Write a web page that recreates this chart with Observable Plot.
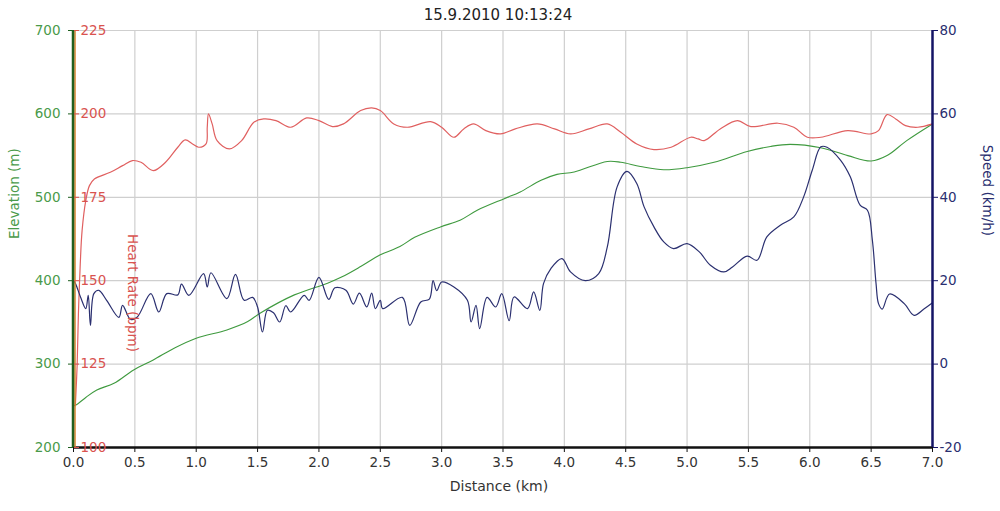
<!DOCTYPE html>
<html>
<head>
<meta charset="utf-8">
<script src="https://cdn.jsdelivr.net/npm/d3@7"></script>
<script src="https://cdn.jsdelivr.net/npm/@observablehq/plot@0.6"></script>
<style>
  html, body { margin: 0; padding: 0; background: #fff; }
  #chart svg { display: block; }
</style>
</head>
<body>
<div id="chart"></div>
<script>
// ---- data ----
const title = "15.9.2010 10:13:24";
const xDomain = [0, 7.0];
const xTicks = [0, 0.5, 1, 1.5, 2, 2.5, 3, 3.5, 4, 4.5, 5, 5.5, 6, 6.5, 7];
const elevTicks = [200, 300, 400, 500, 600, 700];
const hrTicks = [100, 125, 150, 175, 200, 225];
const speedTicks = [-20, 0, 20, 40, 60, 80];

const elevKm = [0.0, 0.02, 0.1, 0.19, 0.33, 0.49, 0.65, 0.82, 1.0, 1.25, 1.42, 1.52, 1.8, 2.07, 2.18, 2.34, 2.5, 2.66, 2.78, 2.99, 3.15, 3.29, 3.51, 3.64, 3.81, 3.94, 4.08, 4.35, 4.46, 4.62, 4.81, 5.0, 5.22, 5.49, 5.68, 5.84, 6.09, 6.31, 6.5, 6.63, 6.79, 7.0];
const elevM = [250, 251, 260, 269, 277, 293, 305, 319, 331, 341, 351, 361, 383, 397, 404, 417, 431, 441, 452, 464.5, 472.5, 484.4, 498.4, 506.4, 520.4, 527.5, 530.3, 543, 542, 537, 533, 535.5, 542, 555, 561, 563.5, 559.5, 550, 543.5, 550, 568, 588];

const hrKm = [0.015, 0.03, 0.04, 0.055, 0.07, 0.10, 0.13, 0.17, 0.30, 0.40, 0.48, 0.55, 0.65, 0.75, 0.85, 0.91, 0.97, 1.02, 1.08, 1.09, 1.10, 1.13, 1.17, 1.27, 1.37, 1.47, 1.55, 1.65, 1.77, 1.90, 2.00, 2.11, 2.20, 2.34, 2.43, 2.50, 2.61, 2.72, 2.91, 3.00, 3.10, 3.18, 3.26, 3.36, 3.48, 3.60, 3.78, 3.92, 4.05, 4.20, 4.35, 4.46, 4.59, 4.73, 4.87, 5.03, 5.09, 5.14, 5.27, 5.41, 5.52, 5.74, 5.87, 5.98, 6.09, 6.31, 6.50, 6.56, 6.63, 6.70, 6.78, 6.88, 7.0];
const hrBpm = [112.5, 125, 140, 155, 165, 174, 178.5, 180.5, 182.5, 184.5, 186, 185.5, 183, 185.5, 190, 192.2, 191, 190, 191, 196, 200, 197, 192, 189.5, 192, 197.5, 198.5, 198, 196, 198.8, 198, 196.2, 197, 201, 201.8, 201, 197, 196, 197.7, 196, 193, 195.5, 197, 195, 194, 195.5, 197, 195.5, 194, 195.5, 197, 194.5, 191, 189.3, 190, 193, 192.5, 192, 195.5, 198, 196.2, 197.2, 196, 193, 193, 195, 194, 195, 199.8, 198.5, 196.5, 196, 197];

const speedKm = [0.0, 0.016, 0.057, 0.10, 0.12, 0.138, 0.166, 0.206, 0.27, 0.37, 0.40, 0.465, 0.52, 0.63, 0.695, 0.76, 0.85, 0.88, 0.94, 1.06, 1.09, 1.12, 1.25, 1.32, 1.39, 1.46, 1.50, 1.54, 1.58, 1.63, 1.68, 1.73, 1.77, 1.88, 1.92, 2.0, 2.08, 2.13, 2.22, 2.28, 2.33, 2.39, 2.43, 2.46, 2.50, 2.52, 2.68, 2.74, 2.83, 2.90, 2.93, 2.96, 3.0, 3.10, 3.21, 3.24, 3.28, 3.31, 3.37, 3.44, 3.49, 3.55, 3.59, 3.70, 3.75, 3.80, 3.83, 3.89, 3.98, 4.05, 4.17, 4.28, 4.35, 4.43, 4.51, 4.59, 4.65, 4.73, 4.81, 4.89, 5.0, 5.10, 5.19, 5.30, 5.37, 5.49, 5.57, 5.65, 5.76, 5.87, 5.95, 6.02, 6.09, 6.14, 6.25, 6.33, 6.41, 6.47, 6.51, 6.54, 6.56, 6.59, 6.65, 6.77, 6.85, 6.93, 7.0];
const speedKmh = [20, 19.3, 16.1, 13.3, 16.5, 9.3, 16.9, 17.7, 15.3, 11.2, 14.1, 10.7, 11.3, 16.9, 12.5, 16.9, 16.6, 19.2, 16.5, 21.7, 18.5, 21.9, 15.7, 21.5, 15.3, 16, 13.7, 7.7, 12.9, 12.3, 10.1, 14, 12.5, 16.5, 15.3, 20.8, 15.5, 18.3, 17.7, 14.4, 17, 13.7, 17, 13.3, 15.3, 13.3, 16, 9.3, 14.9, 15.6, 20, 17.6, 19.7, 18.5, 15.3, 10.1, 14.1, 8.5, 16, 13.7, 16.9, 10.4, 16.1, 13.3, 17.3, 12.9, 19.3, 22.9, 25.3, 22.1, 20, 21.7, 28.1, 42.5, 46.2, 43.3, 37.7, 32.9, 29.3, 27.7, 28.9, 26.9, 23.7, 22.1, 23.3, 25.9, 24.9, 30.5, 33.3, 35.3, 40.1, 46.5, 52.1, 52, 48.9, 44.9, 38.1, 36.9, 29.7, 19.3, 14.5, 13.2, 16.8, 14.5, 11.7, 13.2, 14.7];

// ---- colours ----
const cElev = "#4a9a4a", cElevLine = "#3f9a3f", cElevAxis = "#1f5f1f";
const cHr = "#d9534f", cHrLine = "#e06060";
const cSpeed = "#2a2f70", cSpeedLine = "#2b3070", cSpeedAxis = "#141466";
const cText = "#333";
const fs = 13.5;

// secondary scales mapped onto the elevation scale
const elevDomain = [elevTicks[0], elevTicks[elevTicks.length - 1]];
const hrToElev = d3.scaleLinear().domain([hrTicks[0], hrTicks[hrTicks.length - 1]]).range(elevDomain);
const spToElev = d3.scaleLinear().domain([speedTicks[0], speedTicks[speedTicks.length - 1]]).range(elevDomain);

const elevData = elevKm.map((k, i) => ({km: k, v: elevM[i]}));
const hrData = hrKm.map((k, i) => ({km: k, v: hrToElev(hrBpm[i])}));
const spData = speedKm.map((k, i) => ({km: k, v: spToElev(speedKmh[i])}));

const chart = Plot.plot({
  width: 1000,
  height: 511,
  marginLeft: 73,
  marginRight: 68,
  marginTop: 30,
  marginBottom: 64,
  style: {fontFamily: "DejaVu Sans, Verdana, sans-serif", fontSize: fs + "px", background: "#fff", overflow: "visible"},
  x: {domain: xDomain},
  y: {domain: elevDomain},
  marks: [
    Plot.gridX(xTicks, {stroke: "#cfcfcf", strokeOpacity: 1, strokeWidth: 1.2}),
    Plot.gridY(elevTicks, {stroke: "#cfcfcf", strokeOpacity: 1, strokeWidth: 1.2}),
    Plot.line(elevData, {x: "km", y: "v", stroke: cElevLine, strokeWidth: 1.1, curve: "catmull-rom"}),
    Plot.line(hrData, {x: "km", y: "v", stroke: cHrLine, strokeWidth: 1.2, curve: "catmull-rom"}),
    Plot.line(spData, {x: "km", y: "v", stroke: cSpeedLine, strokeWidth: 1.2, curve: "catmull-rom"}),
    // axis lines
    Plot.ruleY([elevDomain[0]], {stroke: "#111", strokeWidth: 2.5}),
    Plot.ruleX([xDomain[1]], {stroke: cSpeedAxis, strokeWidth: 2.5}),
    Plot.ruleX([xDomain[0]], {stroke: "#d9822b", strokeWidth: 1.5, dx: 1.5}),
    Plot.ruleX([xDomain[0]], {stroke: cElevAxis, strokeWidth: 2.5, dx: -0.5}),
    // x axis
    Plot.axisX(xTicks, {tickSize: 5, tickPadding: 5, tickFormat: d3.format(".1f"), stroke: "#111", fill: cText, label: null, fontSize: fs}),
    // elevation axis (left, outside)
    Plot.axisY(elevTicks, {anchor: "left", tickSize: 5, tickPadding: 8, stroke: cElevAxis, fill: cElev, label: null, fontSize: fs}),
    // heart rate axis (left, inside)
    Plot.axisY(hrTicks.map(hrToElev), {anchor: "right", frameAnchor: "left", tickSize: 5, tickPadding: 2, stroke: cHr, fill: cHr,
      tickFormat: d => String(Math.round(hrToElev.invert(d))), label: null, fontSize: fs}),
    // speed axis (right)
    Plot.axisY(speedTicks.map(spToElev), {anchor: "right", tickSize: 5, tickPadding: 2, stroke: cSpeedAxis, fill: cSpeed,
      tickFormat: d => String(Math.round(spToElev.invert(d))), label: null, fontSize: fs}),
    // titles
    Plot.text([title], {frameAnchor: "top", dy: -21, dx: -5, fill: "#222", fontSize: 15}),
    Plot.text(["Distance (km)"], {frameAnchor: "bottom", dy: 43, dx: -4, fill: cText, fontSize: 14}),
    Plot.text(["Elevation (m)"], {frameAnchor: "left", dx: -59, rotate: -90, fill: cElev, fontSize: fs}),
    Plot.text(["Heart Rate (bpm)"], {frameAnchor: "left", dx: 59, dy: -5, rotate: 90, fill: cHr, fontSize: fs}),
    Plot.text(["Speed (km/h)"], {frameAnchor: "right", dx: 55, dy: -3, rotate: 90, fill: cSpeed, fontSize: fs})
  ]
});
document.getElementById("chart").append(chart);
</script>
</body>
</html>
